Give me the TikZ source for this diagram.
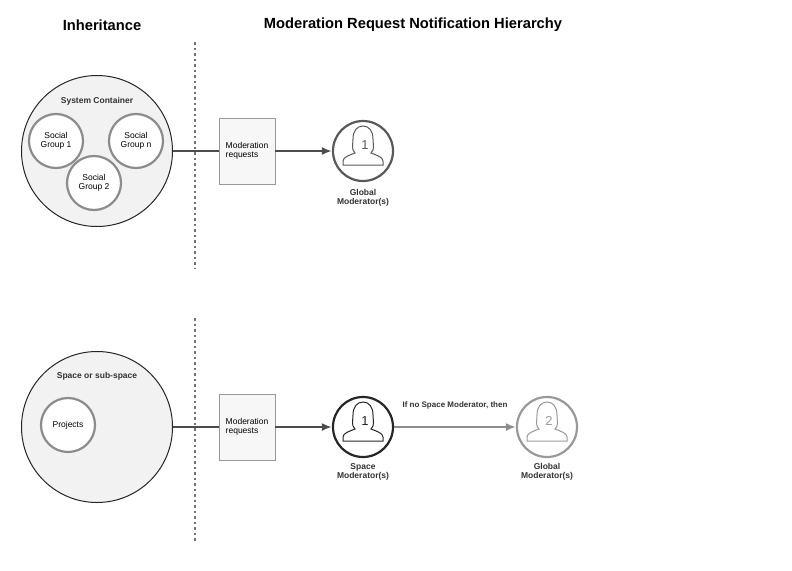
\documentclass[tikz,border=0pt]{standalone}
\usepackage{fontspec}
\setmainfont{Liberation Sans}
\usetikzlibrary{arrows.meta,positioning}

\tikzset{
  container/.style={shape=circle,draw=black!85,fill=black!5,line width=1pt,minimum size=151pt},
  group/.style={shape=circle,draw=black!45,fill=white,line width=2.2pt,minimum size=54pt,align=center,font=\fontsize{8.5}{9.5}\selectfont},
  doc/.style={shape=rectangle,draw=black!40,fill=black!3,minimum width=56pt,minimum height=66pt,align=left,font=\fontsize{8.5}{9.5}\selectfont},
  person/.style={shape=circle,draw=#1,fill=white,line width=2.2pt,minimum size=60pt},
  caption/.style={align=center,font=\bfseries\fontsize{8.5}{9.5}\selectfont,text=black!80},
  flow/.style={-{Latex[length=10pt,width=8pt]},line width=2pt,draw=black!70},
  divider/.style={draw=black!55,line width=2.2pt,dash pattern=on 2.5pt off 3pt}
}

% head and shoulders inside a person circle
\newcommand{\silhouette}[3]{%
  \draw[#2,line width=1pt] ([shift={(-20pt,-14pt)}]#1.center) -- ++(0,4pt)
    .. controls ++(0,4pt) and ++(-5pt,-2pt) .. ++(12pt,8pt)
    .. controls ++(-4pt,4pt) and ++(0,-6pt) .. ++(-2pt,14pt)
    .. controls ++(0,8pt) and ++(-6pt,0) .. ++(10pt,13pt)
    .. controls ++(6pt,0) and ++(0,8pt) .. ++(10pt,-13pt)
    .. controls ++(0,-6pt) and ++(4pt,4pt) .. ++(-2pt,-14pt)
    .. controls ++(5pt,-2pt) and ++(0,4pt) .. ++(12pt,-8pt)
    -- ++(0,-4pt) -- cycle;
  \node[text=#2,font=\fontsize{13}{14}\selectfont] at ([shift={(2pt,6pt)}]#1.center) {#3};}

\begin{document}
\begin{tikzpicture}[x=1pt,y=-1pt]
\useasboundingbox (0,0) rectangle (792,570);

\node[font=\bfseries\fontsize{14.7}{16}\selectfont] (inh) at (102,25) {Inheritance};
\node[font=\bfseries\fontsize{14.7}{16}\selectfont] (hier) at (413,25) {Moderation Request Notification Hierarchy};

\coordinate (d1) at (195,42);
\coordinate (d2) at (195,268);
\coordinate (d3) at (195,318);
\coordinate (d4) at (195,542);
\path[divider] (d1) -- (d2);
\path[divider] (d3) -- (d4);

% top row
\node[container] (sys) at (97,151) {};
\node[caption] (systxt) at (97,101) {System Container};
\node[group] (g1) at (56,141) {Social\\Group 1};
\node[group] (gn) at (136,141) {Social\\Group n};
\node[group] (g2) at (94,183) {Social\\Group 2};
\node[doc] (req1) at (247,151) {Moderation\\requests};
\node[person=black!65] (glob1) at (363,151) {};
\silhouette{glob1}{black!65}{1}
\node[caption] (glob1txt) at (363,198) {Global\\Moderator(s)};

\path[draw=black!70,line width=2pt] (sys) -- (req1);
\path[flow] (req1) -- (glob1);

% bottom row
\node[container] (space) at (97,427) {};
\node[caption] (spacetxt) at (97,376) {Space or sub-space};
\node[group] (proj) at (68,425) {Projects};
\node[doc] (req2) at (247,427) {Moderation\\requests};
\node[person=black!85] (spmod) at (363,427) {};
\silhouette{spmod}{black!85}{1}
\node[caption] (spmodtxt) at (363,472) {Space\\Moderator(s)};
\node[person=black!40] (glob2) at (547,427) {};
\silhouette{glob2}{black!40}{2}
\node[caption] (glob2txt) at (547,472) {Global\\Moderator(s)};

\path[draw=black!70,line width=2pt] (space) -- (req2);
\path[flow] (req2) -- (spmod);
\path[flow,draw=black!45] (spmod) -- node[caption,font=\bfseries\fontsize{8}{9}\selectfont,above=14pt] {If no Space Moderator, then} (glob2);
\end{tikzpicture}
\end{document}
